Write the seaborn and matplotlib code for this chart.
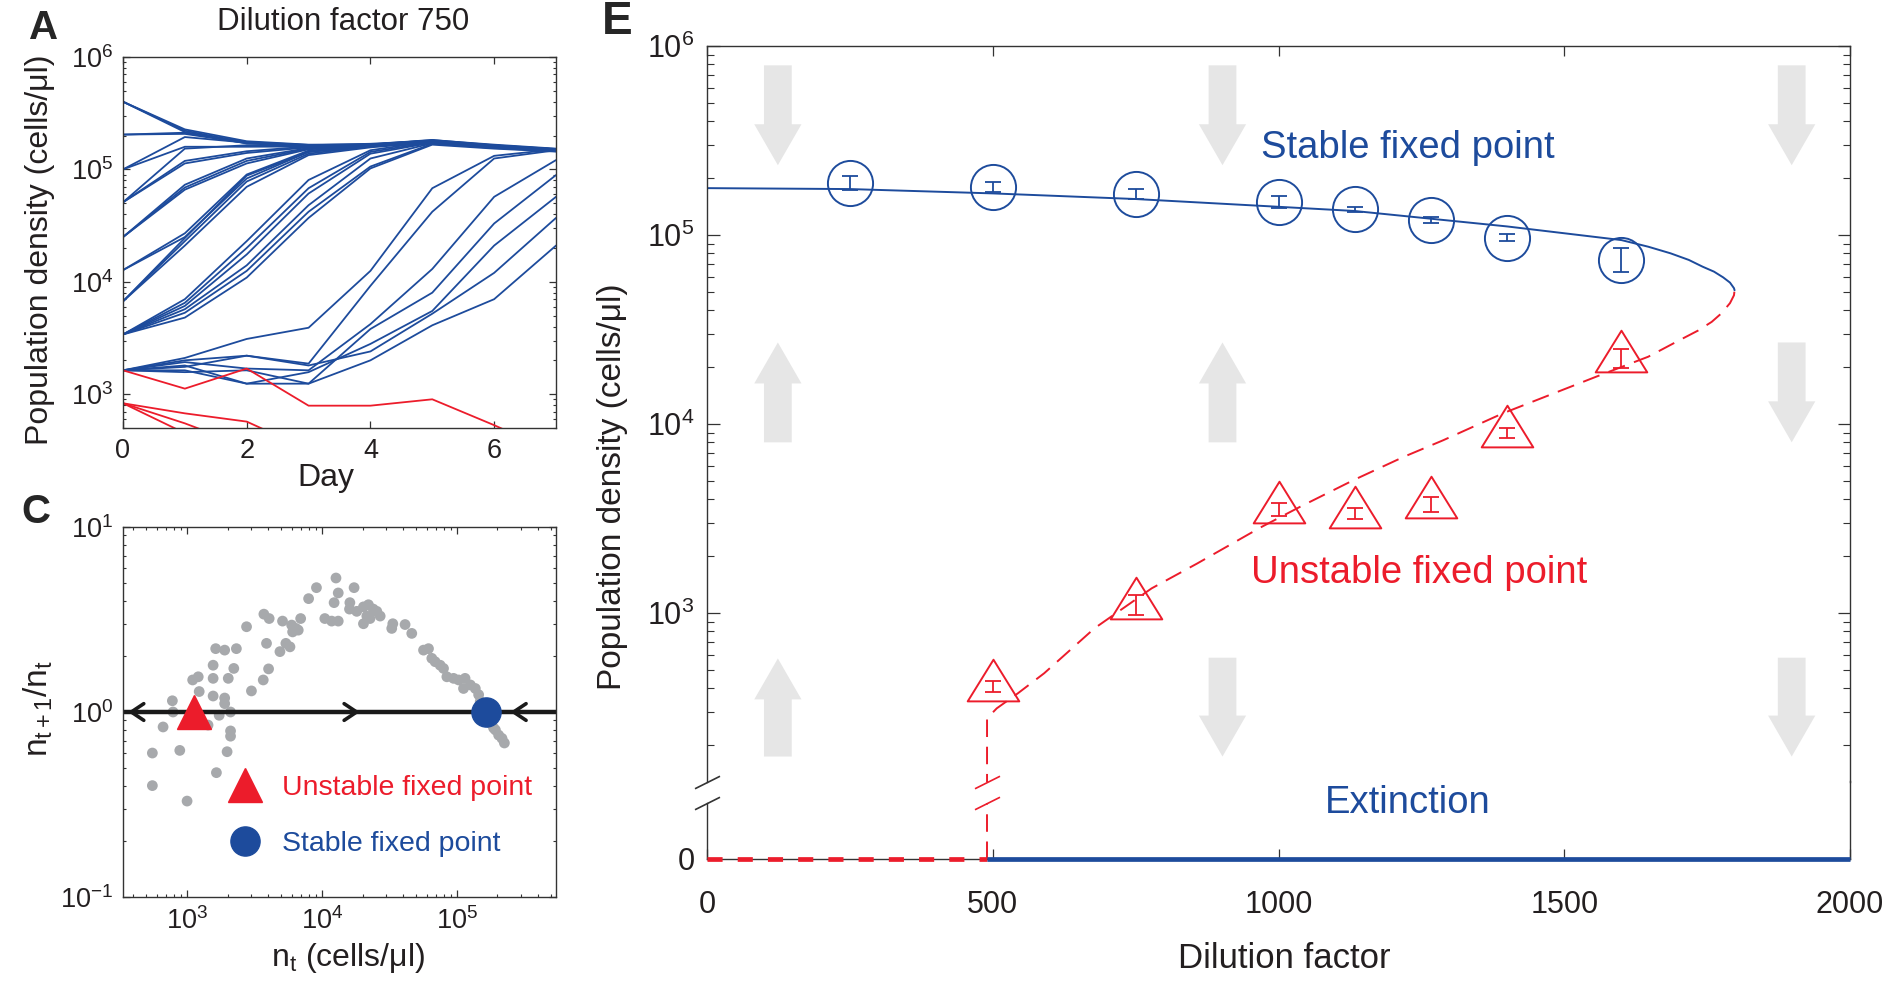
import numpy as np
import pandas as pd
import seaborn as sns
import matplotlib.pyplot as plt
import matplotlib.transforms as mtransforms
from matplotlib.path import Path

sns.set_style('ticks')
plt.rcParams['font.family'] = ['Liberation Sans', 'DejaVu Sans']
plt.rcParams['mathtext.fontset'] = 'custom'
plt.rcParams['mathtext.rm'] = 'Liberation Sans'
plt.rcParams['mathtext.it'] = 'Liberation Sans:italic'
plt.rcParams['mathtext.bf'] = 'Liberation Sans:bold'

BLUE = '#1d4b9c'
RED = '#ec1c2b'
DOT = '#a7a9ac'
FLOW = '#e6e6e6'
AXC = '#333333'
TXT = '#231f20'

# ---------------- panel A : trajectories at dilution factor 750
days = [0, 1, 2, 3, 4, 5, 6, 7]
growing = [
    [4.0e5, 2.27e5, 1.78e5, 1.66e5, 1.66e5, 1.82e5, 1.66e5, 1.53e5],
    [4.0e5, 2.21e5, 1.73e5, 1.64e5, 1.69e5, 1.80e5, 1.62e5, 1.50e5],
    [4.0e5, 2.15e5, 1.70e5, 1.62e5, 1.64e5, 1.78e5, 1.60e5, 1.49e5],
    [2.04e5, 2.12e5, 1.75e5, 1.65e5, 1.67e5, 1.83e5, 1.64e5, 1.52e5],
    [2.04e5, 2.07e5, 1.71e5, 1.61e5, 1.65e5, 1.79e5, 1.61e5, 1.49e5],
    [1.0e5, 1.94e5, 1.73e5, 1.64e5, 1.66e5, 1.80e5, 1.63e5, 1.51e5],
    [1.0e5, 1.59e5, 1.59e5, 1.60e5, 1.64e5, 1.78e5, 1.61e5, 1.49e5],
    [5.1e4, 1.53e5, 1.64e5, 1.62e5, 1.66e5, 1.80e5, 1.63e5, 1.51e5],
    [5.1e4, 1.19e5, 1.45e5, 1.60e5, 1.65e5, 1.79e5, 1.62e5, 1.50e5],
    [5.1e4, 1.13e5, 1.40e5, 1.57e5, 1.63e5, 1.77e5, 1.60e5, 1.47e5],
    [2.5e4, 7.3e4, 1.25e5, 1.55e5, 1.65e5, 1.80e5, 1.63e5, 1.51e5],
    [2.5e4, 6.9e4, 1.19e5, 1.53e5, 1.63e5, 1.78e5, 1.61e5, 1.49e5],
    [2.5e4, 6.6e4, 1.13e5, 1.51e5, 1.61e5, 1.75e5, 1.59e5, 1.46e5],
    [1.27e4, 2.7e4, 9.0e4, 1.47e5, 1.63e5, 1.79e5, 1.62e5, 1.50e5],
    [1.27e4, 2.5e4, 8.3e4, 1.43e5, 1.61e5, 1.77e5, 1.60e5, 1.48e5],
    [6.7e3, 2.45e4, 8.8e4, 1.43e5, 1.62e5, 1.78e5, 1.61e5, 1.49e5],
    [6.7e3, 2.3e4, 7.8e4, 1.38e5, 1.60e5, 1.75e5, 1.59e5, 1.47e5],
    [6.7e3, 2.1e4, 7.0e4, 1.34e5, 1.57e5, 1.74e5, 1.57e5, 1.46e5],
    [3.4e3, 7.0e3, 2.3e4, 8.05e4, 1.48e5, 1.78e5, 1.61e5, 1.49e5],
    [3.4e3, 6.5e3, 2.0e4, 6.8e4, 1.43e5, 1.75e5, 1.60e5, 1.48e5],
    [3.4e3, 6.1e3, 1.75e4, 6.1e4, 1.38e5, 1.73e5, 1.59e5, 1.47e5],
    [3.4e3, 5.7e3, 1.4e4, 4.8e4, 1.25e5, 1.71e5, 1.56e5, 1.46e5],
    [3.4e3, 5.3e3, 1.25e4, 4.2e4, 1.06e5, 1.69e5, 1.55e5, 1.45e5],
    [3.4e3, 4.8e3, 1.09e4, 3.7e4, 1.02e5, 1.66e5, 1.53e5, 1.44e5],
    [1.63e3, 2.1e3, 3.1e3, 3.9e3, 1.25e4, 6.8e4, 1.32e5, 1.51e5],
    [1.63e3, 2.0e3, 2.2e3, 1.87e3, 9.2e3, 4.2e4, 1.25e5, 1.48e5],
    [1.63e3, 1.93e3, 1.69e3, 1.63e3, 4.2e3, 1.3e4, 5.7e4, 1.21e5],
    [1.63e3, 1.80e3, 1.24e3, 1.24e3, 3.8e3, 8.0e3, 3.3e4, 8.9e4],
    [1.63e3, 1.63e3, 1.24e3, 1.57e3, 2.8e3, 5.5e3, 2.1e4, 5.7e4],
    [1.63e3, 1.75e3, 2.2e3, 1.80e3, 2.4e3, 5.2e3, 1.2e4, 3.7e4],
    [1.63e3, 1.57e3, 1.63e3, 1.24e3, 2.0e3, 4.1e3, 7.0e3, 2.1e4],
]
dying = [
    [1.63e3, 1.12e3, 1.69e3, 790, 790, 900, 530, 300],
    [830, 675, 570, 320],
    [830, 550, 340],
    [830, 450],
]

# ---------------- panel C : per-day growth ratio vs density
nt = [1.27e4, 9.1e3, 1.73e4, 7.96e3, 1.32e4, 1.23e4, 1.61e4, 1.6e4, 1.81e4, 2.03e4,
      2.21e4, 2.4e4, 2.55e4, 2.7e4, 2.15e4, 2.03e4, 2.27e4, 1.05e4, 1.18e4, 1.32e4,
      3.35e4, 4.13e4, 4.63e4, 3.29e4, 2.76e3, 3.71e3, 4.06e3, 5.1e3, 5.96e3, 6.41e3,
      6.95e3, 6.06e3, 6.67e3, 3.88e3, 5.4e3, 5.79e3, 4.88e3, 1.63e3, 1.9e3, 2.32e3,
      5.66e4, 6.16e4, 6.52e4, 6.9e4, 7.52e4, 7.96e4, 8.43e4, 9.45e4, 1.03e5, 1.15e5,
      1.26e5, 1.37e5, 1.12e5, 1.45e5, 1.49e5, 1.58e5, 1.77e5, 1.93e5, 2.04e5, 2.16e5,
      2.25e5, 1.56e3, 2.22e3, 4.02e3, 3.67e3, 1.1e3, 1.21e3, 1.56e3, 2.02e3, 3.0e3,
      1.23e3, 1.56e3, 1.9e3, 1.9e3, 778, 787, 2.1e3, 1.73e3, 1.43e3, 664,
      2.1e3, 2.1e3, 553, 883, 1.98e3, 1.65e3, 553, 1.0e3, 1.67e5, 1.87e5]
ratio = [5.3, 4.7, 4.7, 4.1, 4.4, 3.9, 3.9, 3.6, 3.5, 3.7,
         3.8, 3.6, 3.5, 3.3, 3.3, 3.0, 3.2, 3.2, 3.1, 3.1,
         3.0, 2.97, 2.66, 2.83, 2.89, 3.38, 3.2, 3.1, 2.95, 2.83,
         3.2, 2.71, 2.77, 2.35, 2.35, 2.25, 2.12, 2.2, 2.16, 2.2,
         2.16, 2.2, 1.95, 1.87, 1.79, 1.72, 1.55, 1.52, 1.49, 1.52,
         1.40, 1.34, 1.34, 1.24, 1.14, 0.96, 0.87, 0.80, 0.75, 0.72,
         0.68, 1.79, 1.72, 1.71, 1.49, 1.49, 1.55, 1.52, 1.52, 1.30,
         1.29, 1.22, 1.19, 1.11, 1.15, 1.0, 1.0, 0.96, 0.85, 0.83,
         0.79, 0.74, 0.60, 0.62, 0.61, 0.47, 0.40, 0.33, 0.92, 0.82]
unstable_fp = (1.12e3, 1.0)
stable_fp = (1.65e5, 1.0)
flow_tips = [365, 1.91e4, 2.49e5]
flow_dirs = [-1, 1, -1]

# ---------------- panel E : bifurcation diagram
stable_x = [0, 250, 500, 750, 1000, 1133, 1266, 1400, 1600, 1647, 1686, 1718, 1742,
            1762, 1778, 1790, 1797, 1798]
stable_y = [1.77e5, 1.75e5, 1.66e5, 1.55e5, 1.41e5, 1.34e5, 1.22e5, 1.11e5, 9.4e4,
            8.67e4, 8.0e4, 7.38e4, 6.8e4, 6.4e4, 5.97e4, 5.6e4, 5.23e4, 5.1e4]
unstable_x = [490, 490, 507, 544, 590, 678, 778, 858, 969, 1038, 1132, 1219, 1288,
              1393, 1556, 1647, 1702, 1734, 1758, 1775, 1790, 1797, 1798]
unstable_y = [0, 277, 313, 376, 480, 830, 1350, 1830, 2840, 3650, 5060, 6700, 8200,
              11400, 17800, 22700, 27800, 31200, 34700, 38500, 43600, 48000, 51000]
meas_x = [250, 500, 750, 1000, 1133, 1266, 1400, 1600]
high_mean = [1.89e5, 1.80e5, 1.65e5, 1.49e5, 1.37e5, 1.20e5, 9.7e4, 7.4e4]
high_lo = [1.73e5, 1.68e5, 1.55e5, 1.39e5, 1.33e5, 1.16e5, 9.3e4, 6.4e4]
high_hi = [2.05e5, 1.91e5, 1.75e5, 1.60e5, 1.41e5, 1.25e5, 1.01e5, 8.5e4]
thr_x = [500, 750, 1000, 1133, 1266, 1400, 1600]
thr_mean = [408, 1.10e3, 3.54e3, 3.35e3, 3.76e3, 8.95e3, 2.23e4]
thr_lo = [380, 975, 3.26e3, 3.14e3, 3.44e3, 8.4e3, 1.97e4]
thr_hi = [438, 1.24e3, 3.80e3, 3.58e3, 4.10e3, 9.5e3, 2.5e4]
extinct_x = [0, 490, 2000]
flow_x = [124, 902, 1898, 124, 902, 1898, 124, 902, 1898]
flow_from = [7.9e5, 7.9e5, 7.9e5, 8.0e3, 8.0e3, 2.7e4, 174, 580, 580]
flow_to = [2.34e5, 2.34e5, 2.34e5, 2.7e4, 2.7e4, 8.0e3, 575, 174, 174]

fig = plt.figure(figsize=(18.89, 9.81), dpi=100)
W, H = 1889, 981


def box(l, t, r, b):
    return [l / W, 1 - b / H, (r - l) / W, (b - t) / H]


def style(ax, major, minor, size, pad):
    ax.tick_params(which='both', direction='in', top=True, right=True,
                   color=AXC, labelcolor=TXT, labelsize=size, pad=pad)
    ax.tick_params(which='major', length=major, width=0.9)
    ax.tick_params(which='minor', length=minor, width=0.8)
    for s in ax.spines.values():
        s.set_color(AXC)
        s.set_linewidth(1.0)


# ---- A
axA = fig.add_axes(box(123, 57, 556, 428))
rows = []
for i, tr in enumerate(growing):
    rows += [(f'g{i}', d, v, 'grow') for d, v in zip(days, tr)]
for i, tr in enumerate(dying):
    rows += [(f'd{i}', d, v, 'die') for d, v in zip(days, tr)]
dfA = pd.DataFrame(rows, columns=['traj', 'day', 'density', 'fate'])
axA.set_yscale('log')
sns.lineplot(data=dfA, x='day', y='density', units='traj', estimator=None,
             hue='fate', palette={'grow': BLUE, 'die': RED}, legend=False,
             linewidth=1.3, sort=False, ax=axA)
axA.set_xlim(0, 7)
axA.set_ylim(500, 1e6)
axA.set_xticks([0, 2, 4, 6])
axA.set_xlabel('')
axA.set_ylabel('')
style(axA, 5, 2.5, 19.5, 7)

# ---- C
axC = fig.add_axes(box(123, 527, 556, 897))
axC.set_xscale('log')
axC.set_yscale('log')
sns.scatterplot(x=nt, y=ratio, color=DOT, s=60, edgecolor='none', ax=axC, zorder=1)
axC.axhline(1, color='#1a1a1a', lw=3.2, zorder=2)
for tip, d in zip(flow_tips, flow_dirs):
    axC.annotate('', xy=(tip, 1), xytext=(tip * 1.4 ** (-d), 1),
                 arrowprops=dict(arrowstyle='->,head_length=0.45,head_width=0.3',
                                 lw=2.6, color='#1a1a1a', mutation_scale=20,
                                 shrinkA=0, shrinkB=0), zorder=3)
axC.plot(*unstable_fp, marker='^', ms=25, color=RED, ls='none', zorder=4,
         label='Unstable fixed point')
axC.plot(*stable_fp, marker='o', ms=21, color=BLUE, ls='none', zorder=4,
         label='Stable fixed point')
axC.set_xlim(335, 5.43e5)
axC.set_ylim(0.1, 10)
axC.legend(loc='upper left', bbox_to_anchor=(0.2416, 0.33), frameon=False,
           fontsize=20.5, labelcolor='markerfacecolor', handlelength=1.2,
           handletextpad=0.7, labelspacing=1.05, borderpad=0, borderaxespad=0,
           numpoints=1)
style(axC, 5, 2.5, 19.5, 7)

# ---- E (broken y axis: log part above, zero below)
axE = fig.add_axes(box(707, 46, 1850, 782))
axE0 = fig.add_axes(box(707, 803, 1850, 859), sharex=axE)
axE.set_yscale('log')
axE.set_ylim(127.6, 1e6)
axE.set_xlim(0, 2000)
axE0.set_ylim(0, 1)

for x, a, b in zip(flow_x, flow_from, flow_to):
    axE.annotate('', xy=(x, b), xytext=(x, a),
                 arrowprops=dict(arrowstyle='simple,head_length=2.95,head_width=3.4,tail_width=2.0',
                                 mutation_scale=10, color=FLOW, lw=0,
                                 shrinkA=0, shrinkB=0), zorder=0.5)

for ax in (axE, axE0):
    ax.plot(stable_x, stable_y, color=BLUE, lw=1.4, zorder=2)
    ax.plot(unstable_x, unstable_y, color=RED, lw=1.4, dashes=(9, 5), zorder=2)

axE0.plot(extinct_x[:2], [0, 0], color=RED, lw=3.4, dashes=(3.2, 3.2), zorder=3,
          clip_on=False)
axE0.plot(extinct_x[1:], [0, 0], color=BLUE, lw=3.4, zorder=3, clip_on=False,
          solid_capstyle='butt')

axE.errorbar(meas_x, high_mean,
             yerr=[np.array(high_mean) - np.array(high_lo), np.array(high_hi) - np.array(high_mean)],
             fmt='none', ecolor=BLUE, elinewidth=1.3, capsize=5.5, capthick=1.3, zorder=3)
axE.plot(meas_x, high_mean, marker='o', ls='none', mfc='none', mec=BLUE, ms=32.5,
         mew=1.4, zorder=3)
tri = Path([(0, 28), (-26, -14), (26, -14), (0, 28)],
           [Path.MOVETO, Path.LINETO, Path.LINETO, Path.CLOSEPOLY])
axE.errorbar(thr_x, thr_mean,
             yerr=[np.array(thr_mean) - np.array(thr_lo), np.array(thr_hi) - np.array(thr_mean)],
             fmt='none', ecolor=RED, elinewidth=1.3, capsize=5.5, capthick=1.3, zorder=3)
axE.plot(thr_x, thr_mean, marker=tri, ls='none', mfc='none', mec=RED, ms=40,
         mew=1.4, zorder=3)

axE.text(969, 2.9e5, 'Stable fixed point', color=BLUE, fontsize=27.5,
         ha='left', va='center')
axE.text(952, 1.63e3, 'Unstable fixed point', color=RED, fontsize=27.5,
         ha='left', va='center')
axE0.text(1227, 1.0, 'Extinction', color=BLUE, fontsize=27.5, ha='center', va='center')

style(axE, 9, 5, 22, 9)
style(axE0, 9, 5, 22, 9)
axE.tick_params(which='both', bottom=False, labelbottom=False)
axE.spines['bottom'].set_visible(False)
axE0.spines['top'].set_visible(False)
axE0.spines['right'].set_bounds(0, 1.4)
axE0.tick_params(which='both', top=False, right=False)
axE0.tick_params(axis='x', which='major', length=7, pad=22)
axE.tick_params(axis='x', which='major', length=7)
axE0.set_yticks([0])
axE0.set_xticks([0, 500, 1000, 1500, 2000])

# break marks
kw = dict(marker=[(-1, -0.5), (1, 0.5)], markersize=18, ls='none', mew=1.2, clip_on=False)
axE.plot([0], [0], transform=axE.transAxes, color=AXC, mec=AXC, **kw)
axE0.plot([0], [1], transform=axE0.transAxes, color=AXC, mec=AXC, **kw)
axE.plot([unstable_x[0]], [0], color=RED, mec=RED,
         transform=mtransforms.blended_transform_factory(axE.transData, axE.transAxes), **kw)
axE0.plot([unstable_x[0]], [1], color=RED, mec=RED,
          transform=mtransforms.blended_transform_factory(axE0.transData, axE0.transAxes), **kw)

# ---- labels
fig.text(44 / W, 1 - 28 / H, 'A', fontsize=29, fontweight='bold', ha='center', va='center')
fig.text(36 / W, 1 - 512 / H, 'C', fontsize=29, fontweight='bold', ha='center', va='center')
fig.text(617 / W, 1 - 22 / H, 'E', fontsize=33, fontweight='bold', ha='center', va='center')
fig.text(343 / W, 1 - 22 / H, 'Dilution factor 750', fontsize=22.5, ha='center', va='center', color=TXT)
fig.text(326 / W, 1 - 478 / H, 'Day', fontsize=23, ha='center', va='center', color=TXT)
fig.text(40 / W, 1 - 250 / H, 'Population density (cells/μl)', fontsize=23, rotation=90,
         ha='center', va='center', color=TXT)
fig.text(38 / W, 1 - 708 / H, r'$\mathregular{n_{t+1}/n_t}$', fontsize=24, rotation=90,
         ha='center', va='center', color=TXT)
fig.text(348 / W, 1 - 958 / H, r'$\mathregular{n_t}$ (cells/μl)', fontsize=23,
         ha='center', va='center', color=TXT)
fig.text(612 / W, 1 - 487 / H, 'Population density (cells/μl)', fontsize=24, rotation=90,
         ha='center', va='center', color=TXT)
fig.text(1284 / W, 1 - 958 / H, 'Dilution factor', fontsize=25, ha='center', va='center', color=TXT)

fig.savefig('out.png', dpi=100)
